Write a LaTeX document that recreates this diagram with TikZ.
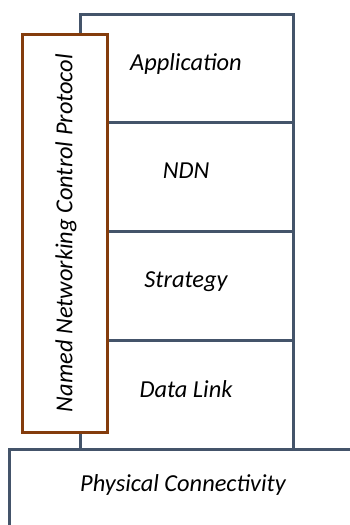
\documentclass[tikz,border=0pt]{standalone}
\usepackage{fontspec}
\setmainfont{Carlito}
\definecolor{stackgray}{HTML}{44546A}
\definecolor{ncpbrown}{HTML}{843C0C}
\tikzset{
  layer/.style={draw=stackgray, line width=3pt, minimum width=213pt, minimum height=108.75pt, inner sep=0pt, outer sep=0pt},
  lbl/.style={font=\fontsize{24.4}{28}\selectfont\itshape, inner sep=0pt},
  ncp/.style={draw=ncpbrown, fill=white, line width=3pt, minimum width=85pt, minimum height=398pt, inner sep=0pt}
}
\begin{document}
\begin{tikzpicture}[x=1pt,y=-1pt]
\useasboundingbox (0,0) rectangle (349,525);
% stack layers
\node[layer] (app) at (186.5,68.5) {};
\node[layer] (ndn) at (186.5,177.25) {};
\node[layer] (str) at (186.5,286) {};
\node[layer] (dl)  at (186.5,394.75) {};
% physical box (open to the right and bottom)
\coordinate (pr) at (352,449);
\coordinate (pb) at (9,528);
\coordinate (pc) at (9,449);
\draw[stackgray, line width=3pt] (pr) -- (pc) -- (pb);
% NCP box
\node[ncp] (ncpbox) at (64.5,233) {};
\node[lbl, rotate=90] (ncptext) at (66,233) {Named Networking Control Protocol};
% labels
\node[lbl] (lapp) at (186,63.5) {Application};
\node[lbl] (lndn) at (186,171) {NDN};
\node[lbl] (lstr) at (186,281.5) {Strategy};
\node[lbl] (ldl)  at (186,389) {Data Link};
\node[lbl] (lphy) at (183,484.5) {Physical Connectivity};
\end{tikzpicture}
\end{document}
